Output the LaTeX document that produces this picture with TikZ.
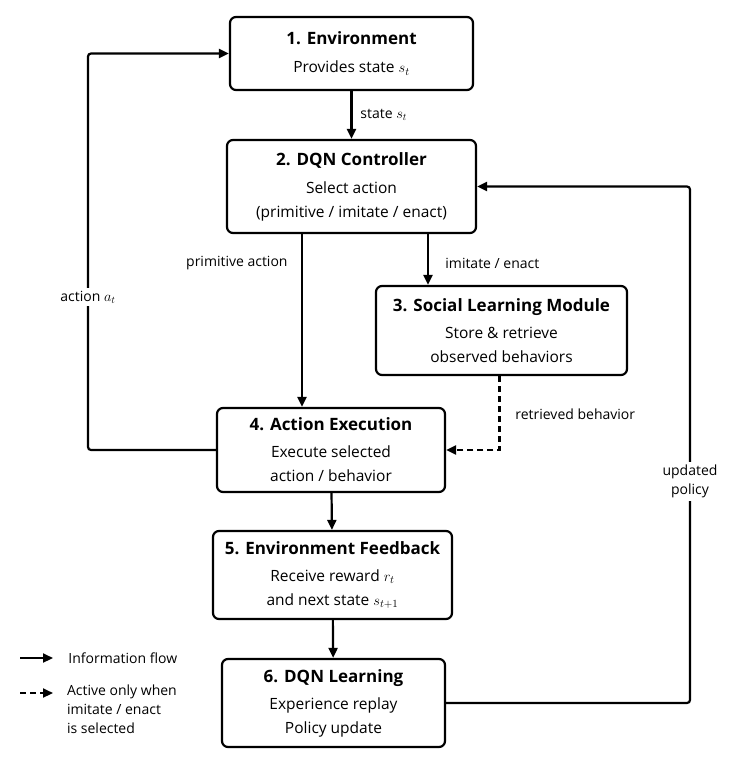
\documentclass[tikz,border=0pt]{standalone}
\usepackage{fontspec}
\setmainfont{Open Sans}
\usepackage{tikz}
\usetikzlibrary{arrows.meta,positioning}
\newcommand{\boxtitle}[1]{{\fontsize{17}{22}\selectfont\bfseries #1}}

\begin{document}
\begin{tikzpicture}[x=1pt,y=-1pt,
  line width=2.2pt,
  >={Triangle[length=10pt,width=9pt]},
  stagebox/.style={draw,rounded corners=6pt,align=center,inner sep=0pt,
    font=\fontsize{15.5}{24}\selectfont},
  flowlabel/.style={font=\fontsize{14}{19}\selectfont}]
  \useasboundingbox (0,0) rectangle (732,762);
  % stages
  \node[stagebox,minimum width=243,minimum height=73] (env) at (351.5,53.5)
    {\boxtitle{1. Environment}\\[4pt] Provides state $s_t$};
  \node[stagebox,minimum width=249,minimum height=93] (dqn) at (351.5,186.5)
    {\boxtitle{2. DQN Controller}\\[4pt] Select action\\ (primitive / imitate / enact)};
  \node[stagebox,minimum width=251,minimum height=89] (social) at (501.5,330.5)
    {\boxtitle{3. Social Learning Module}\\[3pt] Store \& retrieve\\ observed behaviors};
  \node[stagebox,minimum width=228,minimum height=84] (exec) at (331,450)
    {\boxtitle{4. Action Execution}\\[3pt] Execute selected\\ action / behavior};
  \node[stagebox,minimum width=239,minimum height=88] (feedback) at (332.5,575)
    {\boxtitle{5. Environment Feedback}\\[3pt] Receive reward $r_t$\\ and next state $s_{t+1}$};
  \node[stagebox,minimum width=223,minimum height=88] (learn) at (333.5,703)
    {\boxtitle{6. DQN Learning}\\[3pt] Experience replay\\ Policy update};

  % main flow
  \draw[->] (env) -- (dqn);
  \draw[->] (dqn.south -| 302,0) -- (exec.north -| 302,0);
  \draw[->] (dqn.south -| 428,0) -- (social.north -| 428,0);
  \draw[->] (exec) -- (feedback);
  \draw[->] (feedback) -- (learn);
  \draw[->,dash pattern=on 6pt off 4pt] ([xshift=-2pt]social.south) |- (exec.east);

  % feedback loops
  \coordinate (leftrail) at (88,0);
  \coordinate (rightrail) at (690,0);
  \draw[->,rounded corners=3pt] (exec.west) -- (exec.west -| leftrail) -- (env.west -| leftrail) -- (env.west);
  \draw[->,rounded corners=3pt] (learn.east) -- (learn.east -| rightrail) -- (dqn.east -| rightrail) -- (dqn.east);

  % labels
  \node[flowlabel,anchor=west] (lstate) at (356,115) {state $s_t$};
  \node[flowlabel,anchor=east] (lprim) at (292,263) {primitive action};
  \node[flowlabel,anchor=west] (limit) at (441,263) {imitate / enact};
  \node[flowlabel,anchor=west] (lretr) at (511,414) {retrieved behavior};
  \node[flowlabel,fill=white,inner sep=3pt] (laction) at (88,297) {action $a_t$};
  \node[flowlabel,fill=white,align=center,inner sep=3pt] (lpolicy) at (690,481) {updated\\ policy};

  % legend
  \coordinate (solidA) at (20,658);
  \coordinate (solidB) at (53,658);
  \coordinate (dashA) at (20,693);
  \coordinate (dashB) at (53,693);
  \draw[->] (solidA) -- (solidB);
  \draw[->,dash pattern=on 6pt off 4pt] (dashA) -- (dashB);
  \node[flowlabel,anchor=west] (linfo) at (64,658) {Information flow};
  \node[flowlabel,anchor=north west,align=left,inner sep=0pt] (lactive) at (66,684)
    {Active only when\\ imitate / enact\\ is selected};
\end{tikzpicture}
\end{document}
